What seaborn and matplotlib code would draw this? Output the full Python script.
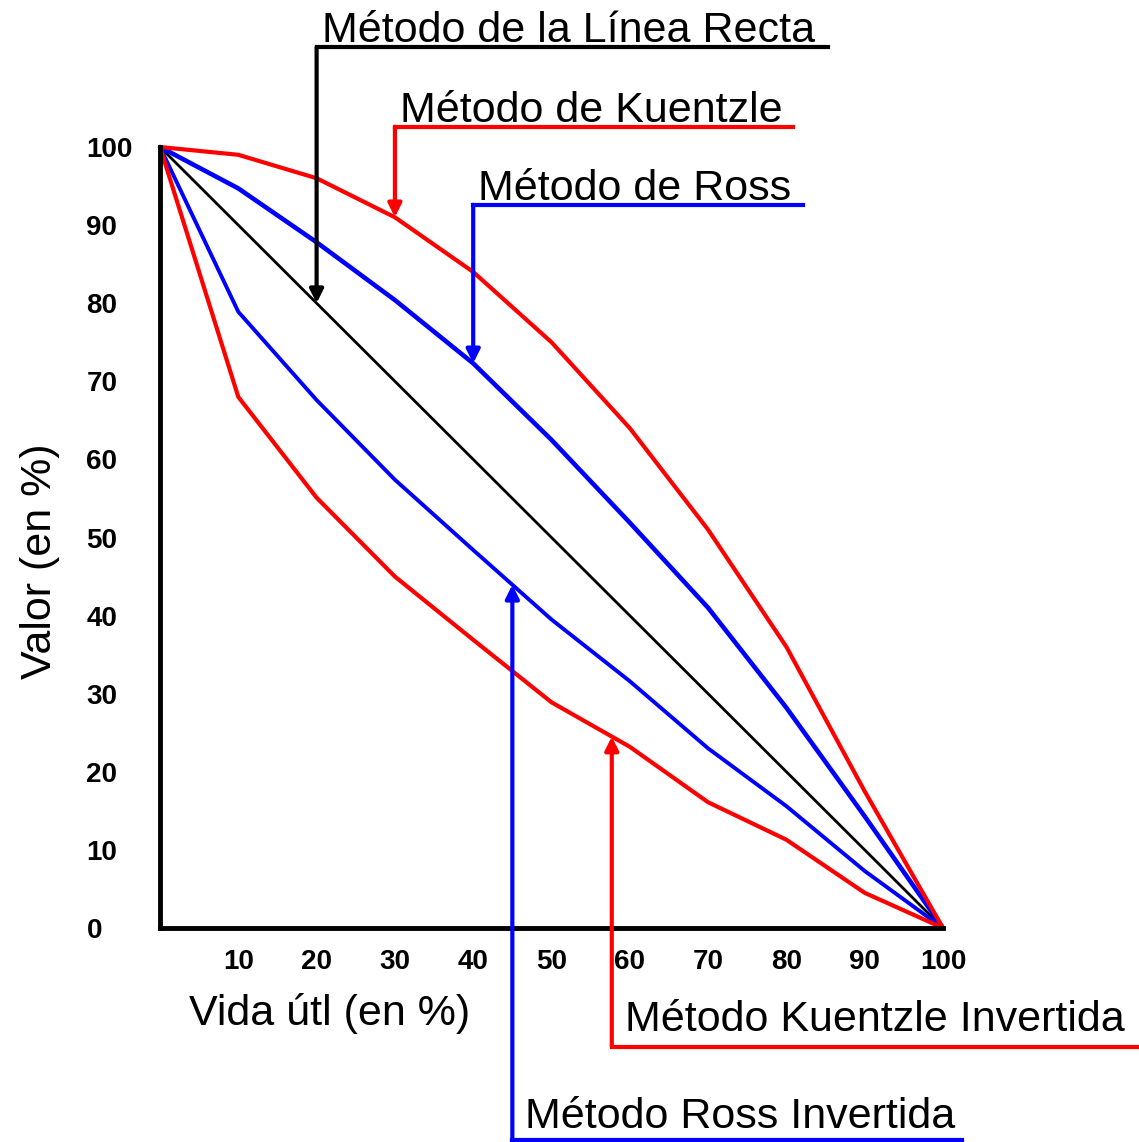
import numpy as np
import pandas as pd
import seaborn as sns
import matplotlib.pyplot as plt

# valores (en %)
vida = [0, 10, 20, 30, 40, 50, 60, 70, 80, 90, 100]
linea_recta = [100, 90, 80, 70, 60, 50, 40, 30, 20, 10, 0]
kuentzle = [100, 99, 96, 91, 84, 75, 64, 51, 36, 17.5, 0]
ross = [100, 94.7, 87.8, 80.4, 72.3, 62.5, 51.9, 41.0, 28.2, 14.3, 0]
kuentzle_inv = [100, 68.0, 55.1, 45.0, 36.9, 28.9, 23.2, 16.1, 11.3, 4.5, 0]
ross_inv = [100, 78.9, 67.6, 57.4, 48.4, 39.5, 31.6, 23.0, 15.6, 7.3, 0]

x_ticks = [10, 20, 30, 40, 50, 60, 70, 80, 90, 100]
y_ticks = [0, 10, 20, 30, 40, 50, 60, 70, 80, 90, 100]

sns.set_style("white")
plt.rcParams['font.family'] = ['Liberation Sans', 'DejaVu Sans']
plt.rcParams['text.color'] = 'black'
plt.rcParams['axes.labelcolor'] = 'black'
plt.rcParams['xtick.color'] = 'black'
plt.rcParams['ytick.color'] = 'black'

W, H = 1139, 1142
fig = plt.figure(figsize=(W / 100, H / 100), dpi=100)
ax = fig.add_axes([160 / W, 1 - 928 / H, 783 / W, 781 / H])

df = pd.DataFrame({'vida': vida, 'recta': linea_recta, 'kuentzle': kuentzle,
                   'ross': ross, 'kuentzle_inv': kuentzle_inv, 'ross_inv': ross_inv})

sns.lineplot(data=df, x='vida', y='recta', color='black', linewidth=2, ax=ax, clip_on=False)
sns.lineplot(data=df, x='vida', y='ross_inv', color='#0000ff', linewidth=2.8, ax=ax, clip_on=False)
sns.lineplot(data=df, x='vida', y='ross', color='#0000ff', linewidth=3.3, ax=ax, clip_on=False)
sns.lineplot(data=df, x='vida', y='kuentzle_inv', color='#ff0000', linewidth=3, ax=ax, clip_on=False)
sns.lineplot(data=df, x='vida', y='kuentzle', color='#ff0000', linewidth=3, ax=ax, clip_on=False)

ax.set_xlim(0, 100)
ax.set_ylim(0, 100)
for s in ['top', 'right']:
    ax.spines[s].set_visible(False)
for s in ['left', 'bottom']:
    ax.spines[s].set_linewidth(3.5)
    ax.spines[s].set_color('black')
    ax.spines[s].set_capstyle('projecting')

ax.set_xticks(x_ticks)
ax.set_xticklabels([str(t) for t in x_ticks], fontsize=20, fontweight='bold', color='black')
ax.set_yticks(y_ticks)
ax.set_yticklabels([str(t) for t in y_ticks], fontsize=20, fontweight='bold', color='black')
plt.setp(ax.get_yticklabels(), ha='left')
ax.tick_params(axis='x', length=0, pad=15)
ax.tick_params(axis='y', length=0, pad=53)

ax.set_xlabel('Vida útl (en %)', fontsize=31, color='black')
ax.xaxis.set_label_coords(0.217, -0.083)
ax.set_ylabel('Valor (en %)', fontsize=31, color='black')
ax.yaxis.set_label_coords(-0.128, 0.469)

# llamadas (texto, color, x de la flecha, serie, y de la linea, x final, x texto, y texto)
llamadas = [
    ('Método de la Línea Recta', 'black', 20, linea_recta, 112.8, 85.3, 20.7, 113.4),
    ('Método de Kuentzle', '#ff0000', 30, kuentzle, 102.6, 80.8, 30.7, 103.2),
    ('Método de Ross', '#0000ff', 40, ross, 92.6, 82.1, 40.6, 93.2),
    ('Método Kuentzle Invertida', '#ff0000', 57.7, kuentzle_inv, -15.2, 125.0, 59.4, -13.2),
    ('Método Ross Invertida', '#0000ff', 45, ross_inv, -27.1, 102.4, 46.6, -25.6),
]
for texto, color, xa, serie, yl, xf, xt, yt in llamadas:
    ya = np.interp(xa, vida, serie)
    ax.plot([xf, xa], [yl, yl], color=color, linewidth=3, clip_on=False,
            solid_capstyle='projecting')
    ax.annotate('', xy=(xa, ya), xytext=(xa, yl), annotation_clip=False,
                arrowprops=dict(arrowstyle='-|>', color=color, lw=3,
                                mutation_scale=20, shrinkA=0, shrinkB=0))
    ax.text(xt, yt, texto, fontsize=31, color='black', va='baseline', ha='left',
            clip_on=False)

plt.savefig('out.png', dpi=100)
plt.close()
